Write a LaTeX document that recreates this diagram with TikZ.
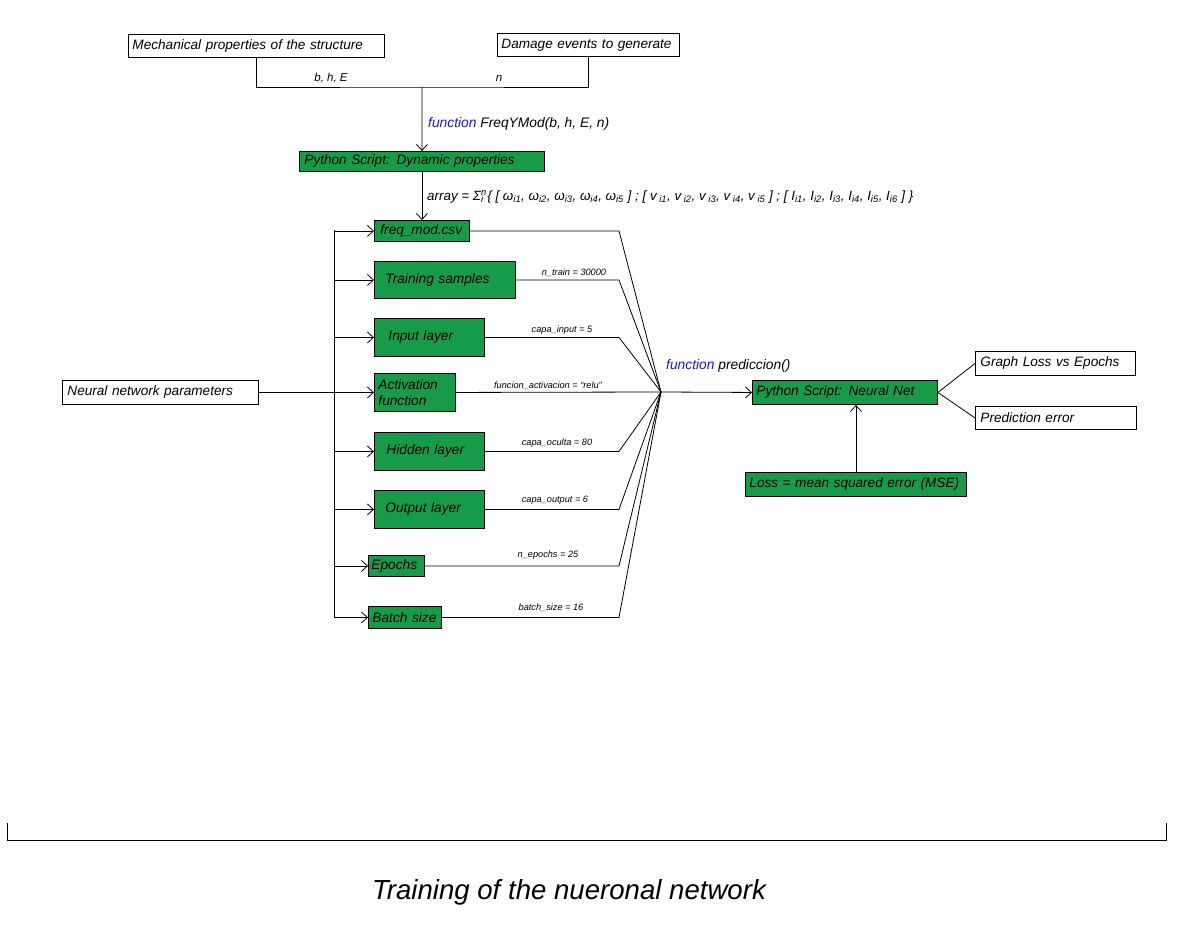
\documentclass[tikz,border=0pt]{standalone}
\usepackage{fontspec}
\setmainfont{Liberation Sans}
\usetikzlibrary{arrows.meta}
\definecolor{gfill}{RGB}{22,155,72}
\definecolor{fnblue}{RGB}{20,20,240}
\begin{document}
\begin{tikzpicture}[x=1pt,y=-1pt,
  wbox/.style={draw=black, line width=0.9pt, fill=white, anchor=north west, inner xsep=4pt, inner ysep=0pt, align=left, font=\fontsize{13.6}{15}\selectfont\itshape},
  gbox/.style={wbox, fill=gfill},
  bigt/.style={font=\fontsize{13.7}{16}\selectfont\itshape},
  arr/.style={-{Straight Barb[length=6pt,width=11pt]}},
  ln/.style={line width=0.8pt},
  lab/.style={font=\fontsize{9.2}{11}\selectfont\itshape, inner sep=0pt},
  txt/.style={font=\fontsize{13.8}{15}\selectfont\itshape, inner sep=0pt, anchor=west},
]
\useasboundingbox (0,0) rectangle (1179,925);
\fill[white] (0,0) rectangle (1179,925);

% top boxes
\node[wbox, text width=248pt, minimum height=23pt] (mech) at (128,34) {Mechanical properties of the structure};
\node[wbox, text width=174pt, minimum height=23pt] (dmg) at (497,33) {Damage events to generate};
\node[gbox, inner xsep=5pt, text width=235pt, minimum height=20pt] (py1) at (299,151) {Python Script: Dynamic properties};

% parameter boxes
\node[gbox, inner xsep=6pt, text width=83pt, minimum height=21pt] (freq) at (374,220) {freq\_mod.csv};
\node[gbox, bigt, inner xsep=11pt, text width=119pt, minimum height=37pt] (train) at (374,261) {Training samples};
\node[gbox, bigt, inner xsep=14pt, text width=82pt, minimum height=38pt] (inp) at (374,318) {Input layer};
\node[gbox, bigt, inner xsep=4pt, text width=73pt, minimum height=38pt] (act) at (374,373) {Activation\\function};
\node[gbox, bigt, inner xsep=12pt, text width=86pt, minimum height=38pt] (hid) at (374,432) {Hidden layer};
\node[gbox, bigt, inner xsep=11pt, text width=88pt, minimum height=38pt] (outl) at (374,490) {Output layer};
\node[gbox, bigt, inner xsep=3pt, text width=50pt, minimum height=21pt] (epo) at (368,555) {Epochs};
\node[gbox, bigt, inner xsep=4pt, text width=65pt, minimum height=22pt] (bat) at (368,606) {Batch size};

\node[wbox, inner xsep=5pt, text width=186pt, minimum height=24pt] (nnp) at (62,380) {Neural network parameters};

% right side
\node[gbox, text width=177pt, minimum height=24pt] (nn) at (752,380) {Python Script: Neural Net};
\node[gbox, text width=213pt, minimum height=24pt] (loss) at (745,472) {Loss = mean squared error (MSE)};
\node[wbox, inner xsep=5pt, text width=150pt, minimum height=24pt] (graph) at (975,351) {Graph Loss vs Epochs};
\node[wbox, inner xsep=5pt, text width=151pt, minimum height=23pt] (pred) at (975,406) {Prediction error};

% coordinates
\coordinate (j1) at (422,87);
\coordinate (bt) at (334,230);
\coordinate (bb) at (334,617);
\coordinate (bx) at (619,0);
\coordinate (cv) at (661,392);

% top connections
\draw[ln] (mech.south) |- (j1) -| (dmg.south);
\draw[ln,arr] (j1) -- (py1.north);
\draw[ln,arr] (py1.south) -- (freq.north);
\node[lab, font=\fontsize{11.5}{13}\selectfont\itshape] (lbhe) at (331,78) {b, h, E};
\node[lab, font=\fontsize{11.5}{13}\selectfont\itshape] (ln1) at (499,78) {n};
\node[txt] (ffreq) at (428,124) {\textcolor{fnblue}{function} FreqYMod(b, h, E, n)};
\node[txt, font=\fontsize{13.4}{15}\selectfont\itshape] (arrl) at (427,197) {array = Σ\rlap{\textsuperscript{n}}\textsubscript{i} \{ [ ω\textsubscript{i1}, ω\textsubscript{i2}, ω\textsubscript{i3}, ω\textsubscript{i4}, ω\textsubscript{i5} ] ; [ v\textsubscript{ i1}, v\textsubscript{ i2}, v\textsubscript{ i3}, v\textsubscript{ i4}, v\textsubscript{ i5} ] ; [ I\textsubscript{i1}, I\textsubscript{i2}, I\textsubscript{i3}, I\textsubscript{i4}, I\textsubscript{i5}, I\textsubscript{i6} ] \}};

% left bus
\draw[ln] (bt) -- (bb);
\draw[ln] (nnp.east) -- (bt |- nnp.east);
\foreach \b in {freq,train,inp,act,hid,outl,epo,bat}
  \draw[ln,arr] (bt |- \b.west) -- (\b.west);

% right fan-in
\foreach \b in {freq,train,inp,hid,outl,epo,bat}
  \draw[ln] (\b.east) -- (\b.east -| bx) -- (cv);
\draw[ln] (act.east) -- (cv);
\draw[ln,arr] (cv) -- (nn.west);

\node[lab] (l1) at (574,272.5) {n\_train = 30000};
\node[lab] (l2) at (562,330) {capa\_input = 5};
\node[lab] (l3) at (548,385.5) {funcion\_activacion = “relu”};
\node[lab] (l4) at (557,443.5) {capa\_oculta = 80};
\node[lab] (l5) at (555,500) {capa\_output = 6};
\node[lab] (l6) at (548,555.5) {n\_epochs = 25};
\node[lab] (l7) at (551,607.5) {batch\_size = 16};

\node[txt] (fpred) at (666,366) {\textcolor{fnblue}{function} prediccion()};

\draw[ln,arr] (loss.north) -- (loss.north |- nn.south);
\draw[ln] (nn.east) -- (graph.west);
\draw[ln] (nn.east) -- (pred.west);

% bottom bracket
\coordinate (k1) at (7,823);
\coordinate (k2) at (7,840);
\coordinate (k3) at (1166,840);
\coordinate (k4) at (1166,823);
\draw[ln] (k1) -- (k2) -- (k3) -- (k4);

\node[font=\fontsize{27.6}{30}\selectfont\itshape, inner sep=0pt] (title) at (569,892) {Training of the nueronal network};
\end{tikzpicture}
\end{document}
